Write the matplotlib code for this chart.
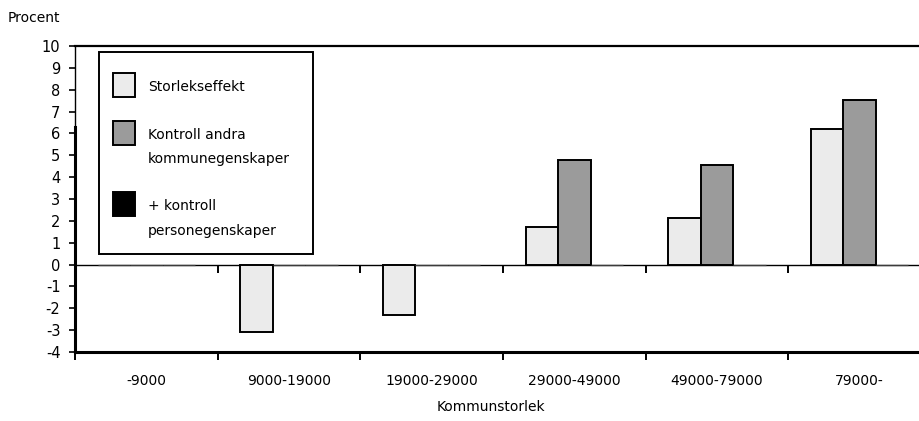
import numpy as np
from matplotlib import pyplot as plt
from matplotlib.patches import Rectangle

# Municipality size classes and effect estimates (percent)
categories = ["-9000", "9000-19000", "19000-29000", "29000-49000", "49000-79000", "79000-"]
storlekseffekt = [0.0, -3.1, -2.33, 1.71, 2.14, 6.22]
kontroll_kommun = [0.0, 0.0, 0.0, 4.77, 4.57, 7.55]
kontroll_person = [0.0, 0.0, 0.0, 0.0, 0.0, 0.0]

series_labels = ["Storlekseffekt", "Kontroll andra\nkommunegenskaper", "+ kontroll\npersonegenskaper"]
series_colors = ["#ebebeb", "#9b9b9b", "#000000"]

plt.rcParams["axes.unicode_minus"] = False

W, H = 920, 421
fig = plt.figure(figsize=(W / 100, H / 100), dpi=100)
ax = fig.add_axes([75 / W, 1 - 352 / H, (931 - 75) / W, 306 / H])

x = np.arange(len(categories))
width = 0.228
for i, (vals, col) in enumerate(zip([storlekseffekt, kontroll_kommun, kontroll_person], series_colors)):
    # empty bars only leave a faint trace on the zero line
    edges = ["black" if v != 0 else "#3c3c3c" for v in vals]
    lws = [1.4 if v != 0 else 0.9 for v in vals]
    ax.bar(x + (i - 1) * width, vals, width, color=col, edgecolor=edges, linewidth=lws, zorder=3)

ax.set_xlim(-0.5, len(categories) - 0.5)
ax.set_ylim(-4, 10)
ax.set_yticks(range(-4, 11))

# category boundaries get ticks, labels sit in between
ax.set_xticks(np.arange(-0.5, len(categories), 1.0))
ax.set_xticklabels([])
ax.set_xticks(x, minor=True)
ax.set_xticklabels(categories, minor=True, fontsize=10)
ax.tick_params(axis="x", which="major", direction="out", length=6, width=1.4)
ax.tick_params(axis="x", which="minor", length=0, pad=16)
ax.tick_params(axis="y", direction="out", length=4.5, width=1.2, pad=6, labelsize=10.5)

# zero line with its own boundary ticks
zero = ax.secondary_xaxis(4 / 14)
zero.set_xticks(np.arange(-0.5, len(categories), 1.0))
zero.set_xticklabels([])
zero.tick_params(direction="out", length=6, width=1.4)
zero.spines["bottom"].set_linewidth(1.0)

ax.spines["right"].set_visible(False)
ax.spines["top"].set_linewidth(1.6)
ax.spines["bottom"].set_linewidth(2.2)
ax.spines["left"].set_linewidth(1.0)
ax.axvline(-0.5, ymin=0, ymax=(6.3 + 4) / 14, color="black", linewidth=2.2, zorder=4, clip_on=False)

fig.text(8 / W, 1 - 18 / H, "Procent", ha="left", va="center", fontsize=10)
fig.text(491 / W, 1 - 407 / H, "Kommunstorlek", ha="center", va="center", fontsize=10)

# legend box drawn by hand so swatches line up with the first text line
def px(xp, yp):
    return xp / W, 1 - yp / H

lx0, ly0 = px(99, 254)
lx1, ly1 = px(313, 52)
fig.patches.append(Rectangle((lx0, ly0), lx1 - lx0, ly1 - ly0, transform=fig.transFigure,
                             facecolor="white", edgecolor="black", linewidth=1.4, zorder=5))
swatch_tops = [73, 121, 192]
for top, label, col in zip(swatch_tops, series_labels, series_colors):
    sx, sy = px(113, top + 24)
    fig.patches.append(Rectangle((sx, sy), 22 / W, 24 / H, transform=fig.transFigure,
                                 facecolor=col, edgecolor="black", linewidth=1.4, zorder=6))
    for k, line in enumerate(label.split("\n")):
        tx, ty = px(148, top + 14 + k * 24.5)
        fig.text(tx, ty, line, ha="left", va="center", fontsize=10, zorder=7)

fig.savefig("out.png", dpi=100)
